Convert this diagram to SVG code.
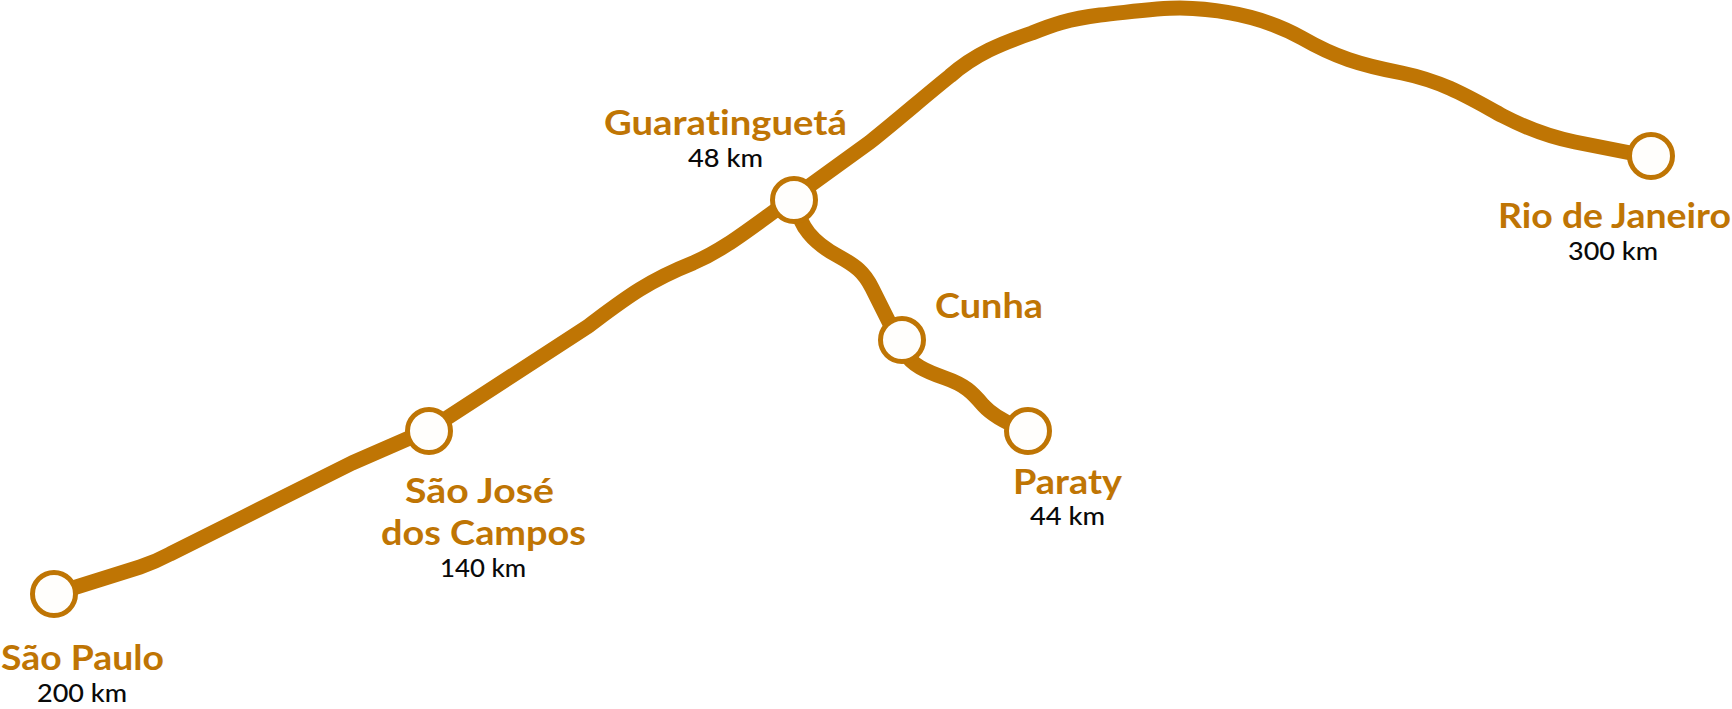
<svg xmlns="http://www.w3.org/2000/svg" width="1732" height="709" viewBox="0 0 1732 709">
<style>
.line{fill:none;stroke:#bf7504;stroke-width:15;stroke-linecap:butt;stroke-linejoin:round}
.stop{fill:#fffefc;stroke:#bf7504;stroke-width:5}
text{font-variant-ligatures:none}
.name{font-family:"Lato","Liberation Sans",sans-serif;font-weight:700;font-size:35px;fill:#bf7504}
.dist{font-family:"Lato","Liberation Sans",sans-serif;font-weight:500;font-size:25px;fill:#0a0a0a}
</style>
<rect width="1732" height="709" fill="#ffffff"/>
<g id="connectors">
<path class="line" d="M54 594 L140 567 Q155 562 170 554 L352 463 L430 429 L587 327 C622 301 645 282 693 263 C725 249 745 232 794 197 L870 142 C900 118 925 96 950 76 C975 54 1002 43 1032 33 C1052 25 1068 19 1100 15 C1130 12 1155 8 1180 8 C1230 9 1270 20 1302 38 C1335 57 1360 65 1402 73 C1445 82 1470 98 1503 116 C1530 130 1550 137 1575 142 L1651 157"/>
<path class="line" d="M796 205 C800 226 812 242 838 256 C856 266 864 272 872 288 L896 336"/>
<path class="line" d="M904 352 C912 365 925 371 945 378 C965 385 972 392 983 405 C993 416 1008 424 1028 431"/>
</g>
<g id="sao-paulo"><circle class="stop" cx="54" cy="594" r="21.5"/><text class="name" x="1" y="670" textLength="163" lengthAdjust="spacingAndGlyphs">São Paulo</text><text class="dist" x="37" y="702" textLength="90" lengthAdjust="spacingAndGlyphs">200 km</text></g>
<g id="sao-jose-dos-campos"><circle class="stop" cx="429" cy="431" r="21.5"/><text class="name" x="405" y="503" textLength="149" lengthAdjust="spacingAndGlyphs">São José</text><text class="name" x="381" y="545" textLength="205" lengthAdjust="spacingAndGlyphs">dos Campos</text><text class="dist" x="440" y="577" textLength="86" lengthAdjust="spacingAndGlyphs">140 km</text></g>
<g id="guaratingueta"><circle class="stop" cx="794" cy="200" r="21.5"/><text class="name" x="604" y="135" textLength="243" lengthAdjust="spacingAndGlyphs">Guaratinguetá</text><text class="dist" x="688" y="167" textLength="75" lengthAdjust="spacingAndGlyphs">48 km</text></g>
<g id="cunha"><circle class="stop" cx="902" cy="340" r="21.5"/><text class="name" x="935" y="318" textLength="108" lengthAdjust="spacingAndGlyphs">Cunha</text></g>
<g id="paraty"><circle class="stop" cx="1028" cy="431" r="21.5"/><text class="name" x="1013" y="494" textLength="109" lengthAdjust="spacingAndGlyphs">Paraty</text><text class="dist" x="1030" y="525" textLength="75" lengthAdjust="spacingAndGlyphs">44 km</text></g>
<g id="rio-de-janeiro"><circle class="stop" cx="1651" cy="156" r="21.5"/><text class="name" x="1498" y="228" textLength="233" lengthAdjust="spacingAndGlyphs">Rio de Janeiro</text><text class="dist" x="1568" y="260" textLength="90" lengthAdjust="spacingAndGlyphs">300 km</text></g>
</svg>
